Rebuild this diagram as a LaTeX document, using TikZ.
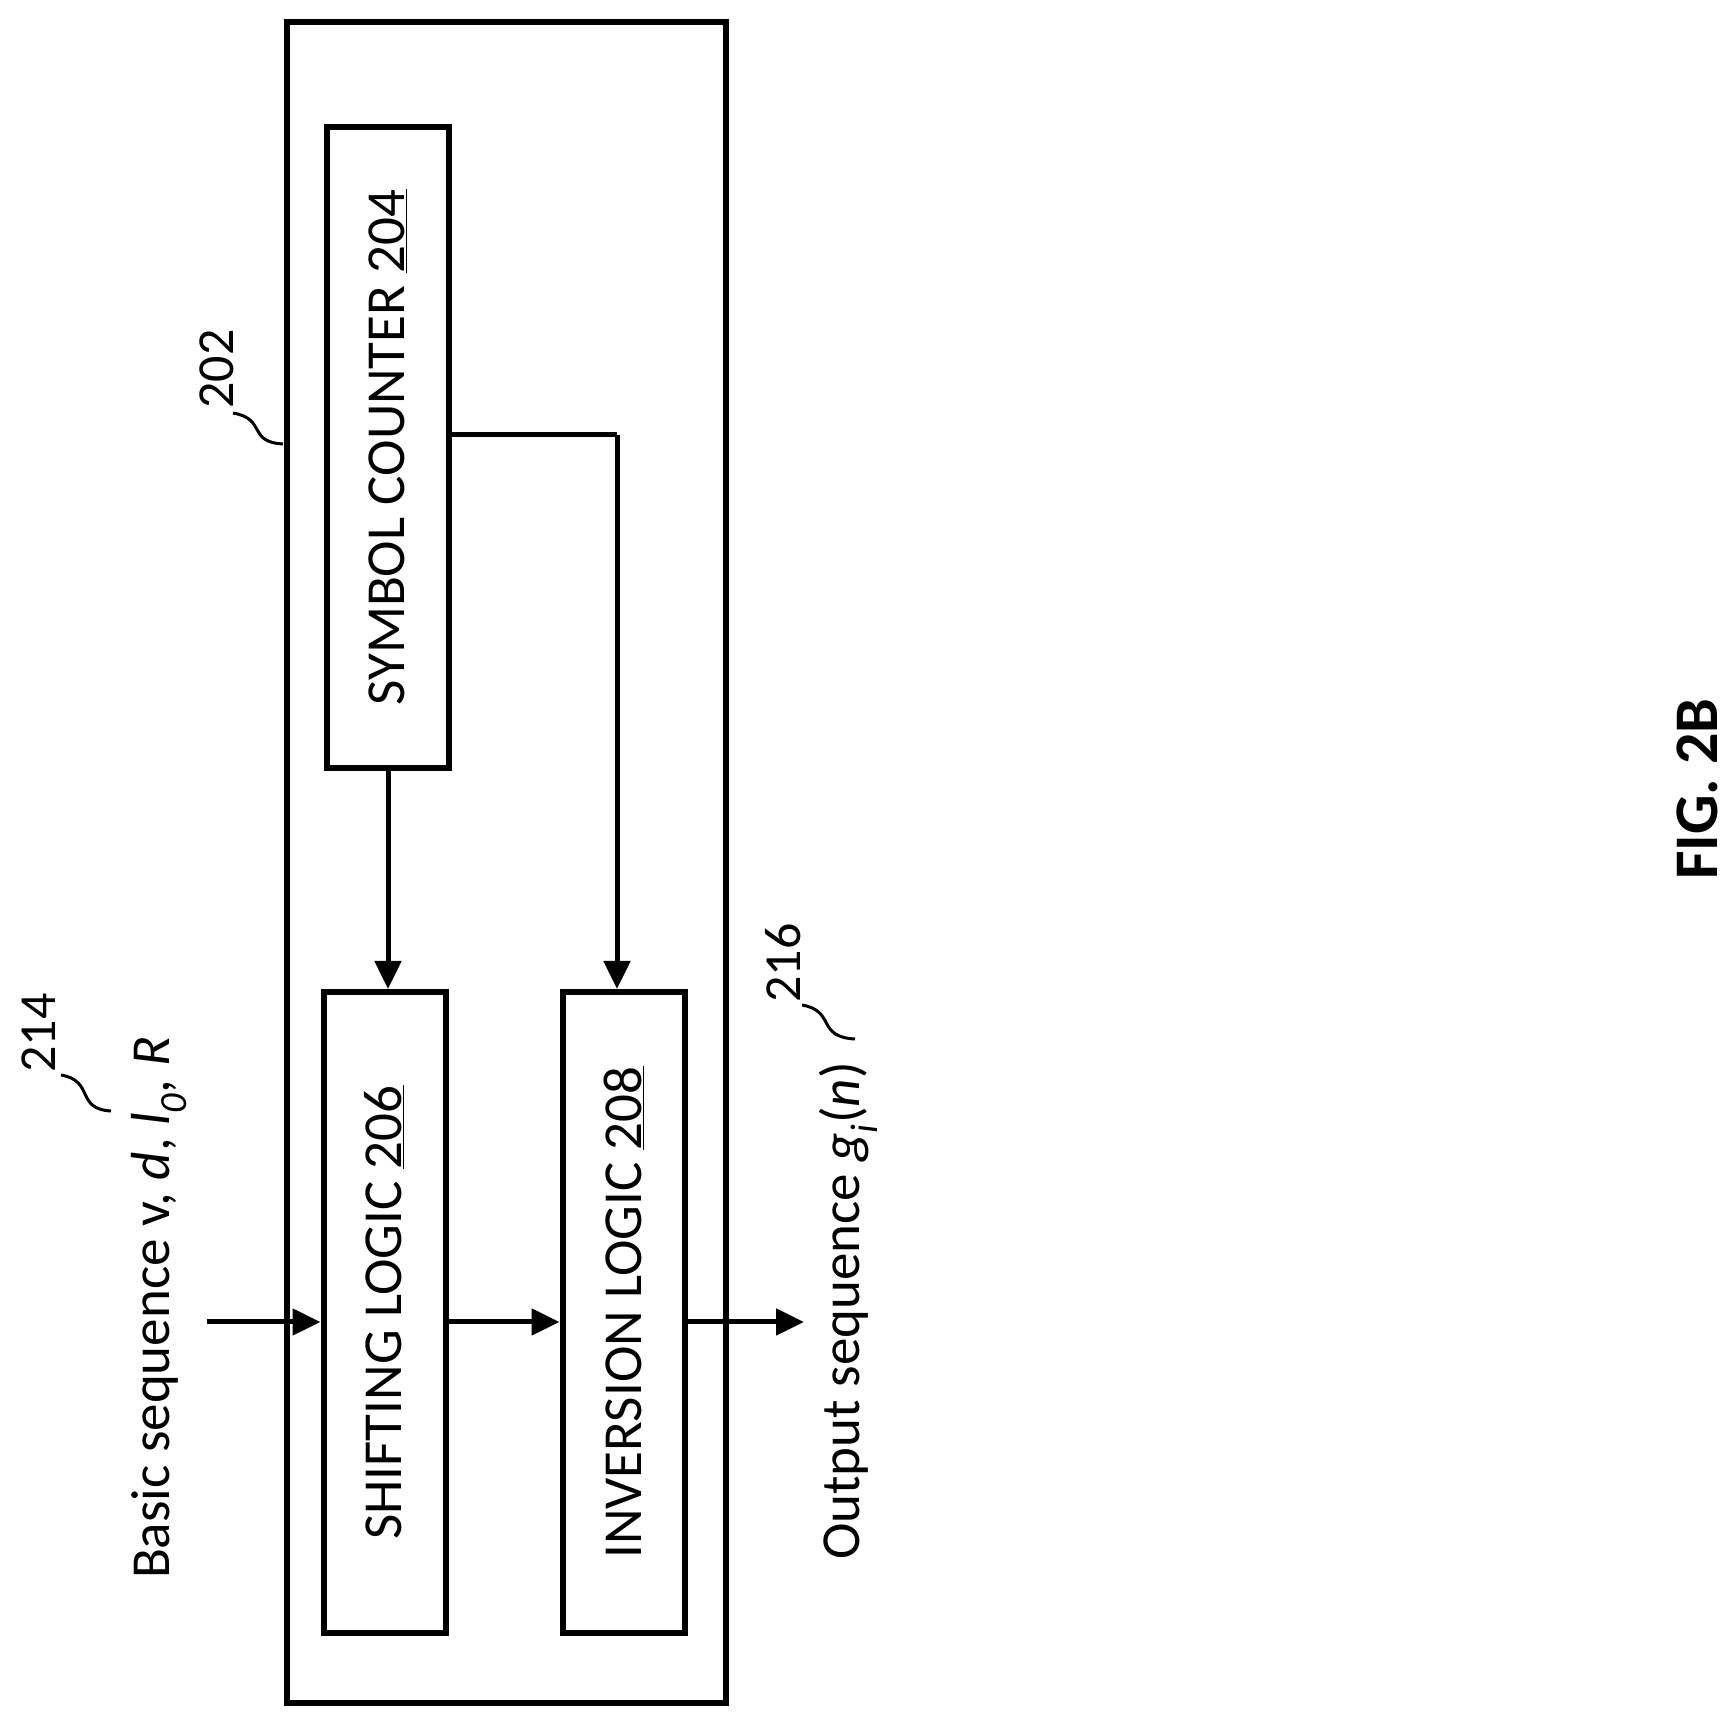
\documentclass[tikz,border=0pt]{standalone}
\usepackage{fontspec}
\setmainfont{Carlito}
\usetikzlibrary{arrows.meta}
\begin{document}
\begin{tikzpicture}[x=1pt,y=1pt,
    block/.style={rectangle, rotate=90, minimum width=641pt, minimum height=122pt, draw=black, line width=6pt, text centered, font=\fontsize{55}{60}\selectfont},
    lbl/.style={rotate=90, font=\fontsize{55}{60}\selectfont},
    num/.style={rotate=90, font=\fontsize{52}{56}\selectfont},
    arrow/.style={line width=5pt,-{Triangle[length=28pt,width=26pt]}},
    squig/.style={line width=3pt}
]
\useasboundingbox (0,0) rectangle (1734,1721);

% Outer unit
\node[draw=black, line width=6pt, minimum width=439pt, minimum height=1681pt] (unit) at (506.5,858.5) {};

% Blocks
\node[block] (cnt) at (388,1273.5) {SYMBOL COUNTER \underline{204}};
\node[block] (shf) at (384.5,408.5) {SHIFTING LOGIC \underline{206}};
\node[block] (inv) at (623.5,408.5) {INVERSION LOGIC \underline{208}};

% Signal points
\coordinate (in) at (207,399);
\coordinate (out) at (804,399);
\coordinate (br) at (617,1286);

% Connectors
\draw[arrow] (in) -- (in -| shf.north);
\draw[arrow] (in -| shf.south) -- (in -| inv.north);
\draw[arrow] (in -| inv.south) -- (out);
\draw[arrow] (cnt.west) -- (cnt.west |- shf.east);
\draw[line width=5pt] (cnt.south |- br) -- (br);
\draw[arrow] (br) -- (br |- inv.east);

% Texts
\node[lbl] (basic) at (159,413) {Basic sequence v, \textit{d}, \textit{l\textsubscript{0}}, \textit{R}};
\node[lbl] (outs) at (848,410) {Output sequence \textit{g\textsubscript{i}}(\textit{n})};
\node[rotate=90, font=\fontsize{62}{66}\selectfont\bfseries] (fig) at (1697,932) {FIG. 2B};

% Reference numerals
\node[num] (n214) at (39,688) {214};
\node[num] (n202) at (217,1352) {202};
\node[num] (n216) at (783,758) {216};
\draw[squig] (61,646) .. controls (95,640) and (75,612) .. (111,610);
\draw[squig] (233,1308) .. controls (267,1302) and (247,1279) .. (283,1277);
\draw[squig] (802,716) .. controls (836,710) and (816,684) .. (855,682);
\end{tikzpicture}
\end{document}
